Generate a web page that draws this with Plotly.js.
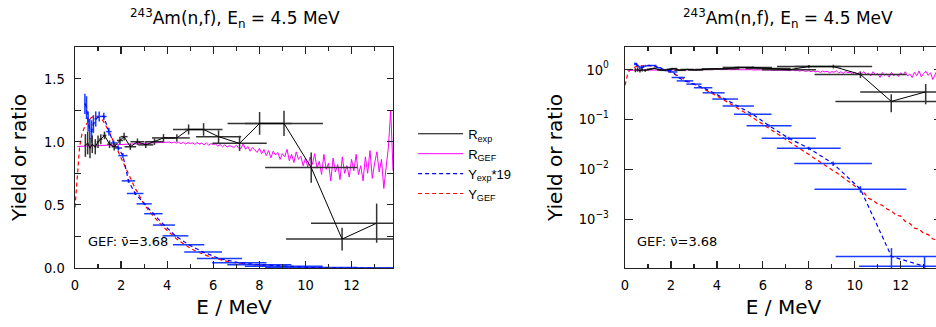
<!DOCTYPE html>
<html><head><meta charset="utf-8">
<script src="https://cdn.plot.ly/plotly-3.0.1.min.js"></script>
<style>html,body{margin:0;padding:0;overflow:hidden;background:#fff;}#plot{width:950px;height:327px;}</style>
</head><body><div id="plot"></div>
<script>
// R_exp (black, with error bars)
const E_rexp = [0.45,0.55,0.65,0.75,0.88,1.00,1.12,1.28,1.50,1.70,1.95,2.13,2.40,2.71,3.07,3.45,3.84,4.42,4.93,5.58,6.23,7.14,8.01,9.07,10.25,11.59,13.09];
const R_exp  = [0.97,0.99,0.95,0.98,0.96,1.00,1.02,1.05,0.98,0.96,1.01,1.04,0.96,1.00,0.975,1.00,1.03,1.03,1.097,1.097,1.04,0.987,1.145,1.145,0.795,0.229,0.355];
const dE_rexp = [0.03,0.03,0.03,0.04,0.05,0.06,0.07,0.08,0.10,0.11,0.13,0.15,0.25,0.30,0.33,0.40,0.50,0.56,0.68,0.82,0.98,1.18,1.39,1.69,2.0,2.43,2.85];
const dR_exp  = [0.09,0.09,0.08,0.07,0.06,0.05,0.04,0.03,0.03,0.03,0.03,0.03,0.025,0.025,0.025,0.025,0.03,0.03,0.04,0.05,0.05,0.06,0.09,0.10,0.12,0.09,0.155];

// Y_exp*19 (blue, with error bars)
const E_yexp = [0.43,0.50,0.57,0.64,0.72,0.80,0.90,1.05,1.25,1.47,1.68,1.88,2.08,2.32,2.61,3.00,3.40,3.86,4.36,4.93,5.56,6.27,7.13,8.00,9.06,10.25,11.60,13.04];
const Y_exp  = [1.30,1.27,1.16,1.10,1.08,1.14,1.18,1.20,1.20,1.08,0.99,0.95,0.89,0.69,0.59,0.508,0.43,0.34,0.255,0.185,0.126,0.0745,0.0417,0.0263,0.01295,0.00398,0.000179,0.000113];
const dE_yexp = [0.03,0.03,0.03,0.03,0.04,0.04,0.05,0.08,0.12,0.12,0.14,0.16,0.20,0.29,0.36,0.33,0.40,0.48,0.56,0.68,0.82,0.98,1.18,1.39,1.69,2.0,2.43,2.85];
const dY_exp  = [0.08,0.09,0.08,0.08,0.09,0.07,0.06,0.04,0.03,0.03,0.02,0.02,0.02,0.015,0.012,0.01,0.008,0.007,0.005,0.004,0.004,0.004,0.003,0.002,0.0013,0.0006,0.000084,0.000061];

// Y_GEF (red dashed)
const E_ygef = [0.0,0.05,0.1,0.15,0.2,0.3,0.4,0.5,0.6,0.7,0.8,0.9,1.0,1.1,1.2,1.3,1.4,1.5,1.6,1.7,1.8,1.9,2.0,2.2,2.4,2.6,2.8,3.0,3.2,3.4,3.6,3.8,4.0,4.2,4.4,4.6,4.8,5.0,5.2,5.4,5.6,5.8,6.0,6.2,6.4,6.6,6.8,7.0,7.2,7.4,7.6,7.8,8.0,8.2,8.4,8.6,8.8,9.0,9.2,9.4,9.6,9.8,10.0,10.2,10.4,10.6,10.8,11.0,11.2,11.4,11.6,11.8,12.0,12.2,12.4,12.6,12.8,13.0,13.2,13.4,13.6,13.8];
const Y_gef  = [0.48,0.62,0.76,0.87,0.96,1.06,1.11,1.14,1.17,1.19,1.20,1.20,1.20,1.19,1.17,1.14,1.11,1.07,1.03,0.99,0.95,0.91,0.87,0.79,0.71,0.635,0.57,0.505,0.455,0.41,0.37,0.33,0.295,0.262,0.232,0.205,0.18,0.158,0.138,0.121,0.105,0.092,0.080,0.069,0.060,0.052,0.045,0.039,0.034,0.0295,0.0258,0.0228,0.0198,0.0172,0.0150,0.0128,0.0112,0.0098,0.0086,0.0074,0.0062,0.0054,0.0046,0.0040,0.0034,0.0026,0.0024,0.0020,0.0019,0.0016,0.00145,0.0012,0.00115,0.00090,0.00082,0.00066,0.00063,0.00052,0.00049,0.00040,0.00038,0.00030];

// R_GEF (magenta)
const E_rgef = [0.1,0.2,0.3,0.4,0.5,0.6,0.7,0.8,0.9,1.0,
1.1,1.2,1.3,1.4,1.5,1.6,1.7,1.8,1.9,2.0,
2.1,2.2,2.3,2.4,2.5,2.6,2.7,2.8,2.9,3.0,
3.1,3.2,3.3,3.4,3.5,3.6,3.7,3.8,3.9,4.0,
4.1,4.2,4.3,4.4,4.5,4.6,4.7,4.8,4.9,5.0,
5.1,5.2,5.3,5.4,5.5,5.6,5.7,5.8,5.9,6.0,
6.1,6.2,6.3,6.4,6.5,6.6,6.7,6.8,6.9,7.0,
7.1,7.2,7.3,7.4,7.5,7.6,7.7,7.8,7.9,8.0,
8.1,8.2,8.3,8.4,8.5,8.6,8.7,8.8,8.9,9.0,
9.1,9.2,9.3,9.4,9.5,9.6,9.7,9.8,9.9,10.0,
10.1,10.2,10.3,10.4,10.5,10.6,10.7,10.8,10.9,11.0,
11.1,11.2,11.3,11.4,11.5,11.6,11.7,11.8,11.9,12.0,
12.1,12.2,12.3,12.4,12.5,12.6,12.7,12.8,12.9,13.0,
13.1,13.2,13.3,13.4,13.5,13.6,13.7,13.8];
const R_gef = [0.962,0.964,0.965,0.966,0.966,0.967,0.968,0.967,0.968,0.969,
0.970,0.969,0.971,0.972,0.971,0.973,0.974,0.973,0.975,0.976,
0.977,0.979,0.978,0.981,0.983,0.982,0.985,0.984,0.987,0.986,
0.989,0.988,0.991,0.990,0.993,0.991,0.994,0.992,0.996,0.993,
0.997,0.990,0.998,0.989,0.995,0.985,0.996,0.982,0.993,0.986,
0.991,0.979,0.994,0.981,0.989,0.976,0.990,0.973,0.985,0.978,
0.982,0.965,0.978,0.960,0.975,0.958,0.970,0.962,0.955,0.972,
0.950,0.945,0.985,0.940,0.962,0.925,0.955,0.935,0.915,0.948,
0.905,0.938,0.890,0.930,0.872,0.925,0.895,0.915,0.860,0.905,
0.880,0.940,0.850,0.900,0.835,0.920,0.860,0.885,0.810,0.870,
0.800,0.880,0.820,0.905,0.790,0.845,0.740,0.900,0.780,0.830,
0.690,0.870,0.760,0.820,0.700,0.880,0.750,0.810,0.720,0.860,
0.770,0.900,0.740,0.810,0.690,0.880,0.750,0.930,0.710,0.830,
0.920,0.760,0.860,0.630,0.800,0.960,1.250,0.770];

const titleText = '<sup>243</sup>Am(n,f), E<sub>n</sub> = 4.5 MeV';
const gefText = 'GEF: \u03bd\u0304=3.68';
const xTicks = [0,2,4,6,8,10,12];
const yLinTicks = [0,0.5,1.0,1.5];
const yLinLabels = ['0.0','0.5','1.0','1.5'];
const yLogTicks = [1,0.1,0.01,0.001];
const yLogLabels = ['10<sup>0</sup>','10<sup>\u22121</sup>','10<sup>\u22122</sup>','10<sup>\u22123</sup>'];

function traces(xa, ya, show) {
  return [
    {x:E_rgef, y:R_gef, xaxis:xa, yaxis:ya, type:'scatter', mode:'lines', name:'R<sub>GEF</sub>',
     line:{color:'#ff00ff', width:1}, showlegend:show, legendrank:2},
    {x:E_ygef, y:Y_gef, xaxis:xa, yaxis:ya, type:'scatter', mode:'lines', name:'Y<sub>GEF</sub>',
     line:{color:'#ff0000', width:1.2, dash:'4px,3px'}, showlegend:show, legendrank:4},
    {x:E_yexp, y:Y_exp, xaxis:xa, yaxis:ya, type:'scatter', mode:'lines', name:'Y<sub>exp</sub>*19',
     line:{color:'#0000ff', width:1.2, dash:'4px,3px'}, showlegend:show, legendrank:3,
     error_x:{type:'data', array:dE_yexp, visible:true, color:'#1a3cff', thickness:1.5, width:0},
     error_y:{type:'data', array:dY_exp, visible:true, color:'#1a3cff', thickness:1.5, width:0}},
    {x:E_rexp, y:R_exp, xaxis:xa, yaxis:ya, type:'scatter', mode:'lines', name:'R<sub>exp</sub>',
     line:{color:'#000000', width:1}, showlegend:show, legendrank:1,
     error_x:{type:'data', array:dE_rexp, visible:true, color:'#333333', thickness:1.5, width:0},
     error_y:{type:'data', array:dR_exp, visible:true, color:'#333333', thickness:1.5, width:0}}
  ];
}

const tickFont = {family:'Liberation Sans Narrow, DejaVu Sans Condensed, Liberation Sans, sans-serif', size:14.5, color:'#000'};
const axTitleFont = {family:'DejaVu Sans, sans-serif', size:20, color:'#000'};
const common = {showline:true, mirror:'allticks', linecolor:'#222', linewidth:1.3, ticks:'inside',
  tickcolor:'#222', tickwidth:1.2, showgrid:false, zeroline:false, tickfont:tickFont};

const data = traces('x','y',true).concat(traces('x2','y2',false));
const layout = {
  width:950, height:327, margin:{l:75, r:8, t:47, b:59},
  paper_bgcolor:'#fff', plot_bgcolor:'#fff', font:{family:'Liberation Sans, sans-serif', color:'#000'},
  xaxis:Object.assign({}, common, {domain:[0, 0.3668], range:[0,13.8], tickvals:xTicks, ticklen:7,
    minor:{dtick:1, tick0:0, ticklen:4, ticks:'inside', tickcolor:'#222'}, ticklabelstandoff:3,
    title:{text:'E / MeV', font:axTitleFont, standoff:8}}),
  yaxis:Object.assign({}, common, {domain:[0,1], range:[0,1.75], tickvals:yLinTicks, ticktext:yLinLabels, ticklen:6,
    minor:{dtick:0.25, tick0:0, ticklen:6, ticks:'inside', tickcolor:'#222'}, ticklabelstandoff:6,
    title:{text:'Yield or ratio', font:axTitleFont, standoff:12}}),
  xaxis2:Object.assign({}, common, {domain:[0.6344, 1], range:[0,13.8], tickvals:xTicks, ticklen:7, anchor:'y2',
    minor:{dtick:1, tick0:0, ticklen:4, ticks:'inside', tickcolor:'#222'}, ticklabelstandoff:3,
    title:{text:'E / MeV', font:axTitleFont, standoff:8}}),
  yaxis2:Object.assign({}, common, {domain:[0,1], type:'log', range:[-3.98,0.45], tickvals:yLogTicks, ticktext:yLogLabels,
    ticklen:8, anchor:'x2', ticklabelstandoff:12,
    title:{text:'Yield or ratio', font:axTitleFont, standoff:10}}),
  showlegend:true,
  legend:{x:0.39, y:0.675, xanchor:'left', yanchor:'top', bgcolor:'rgba(0,0,0,0)', borderwidth:0,
    font:{family:'Liberation Sans, sans-serif', size:13, color:'#000'}, tracegroupgap:0, itemwidth:45},
  annotations:[
    {text:titleText, xref:'paper', yref:'paper', x:0.1845, y:1.127, xanchor:'center', yanchor:'middle', showarrow:false,
     font:{family:'DejaVu Sans, sans-serif', size:17, color:'#000'}},
    {text:titleText, xref:'paper', yref:'paper', x:0.8224, y:1.127, xanchor:'center', yanchor:'middle', showarrow:false,
     font:{family:'DejaVu Sans, sans-serif', size:17, color:'#000'}},
    {text:gefText, xref:'x domain', yref:'y domain', x:0.035, y:0.12, xanchor:'left', yanchor:'middle', showarrow:false,
     font:{family:'DejaVu Sans, sans-serif', size:13, color:'#000'}},
    {text:gefText, xref:'x2 domain', yref:'y2 domain', x:0.032, y:0.122, xanchor:'left', yanchor:'middle', showarrow:false,
     font:{family:'DejaVu Sans, sans-serif', size:13, color:'#000'}}
  ]
};
Plotly.newPlot('plot', data, layout, {displayModeBar:false, staticPlot:true});
</script></body></html>
